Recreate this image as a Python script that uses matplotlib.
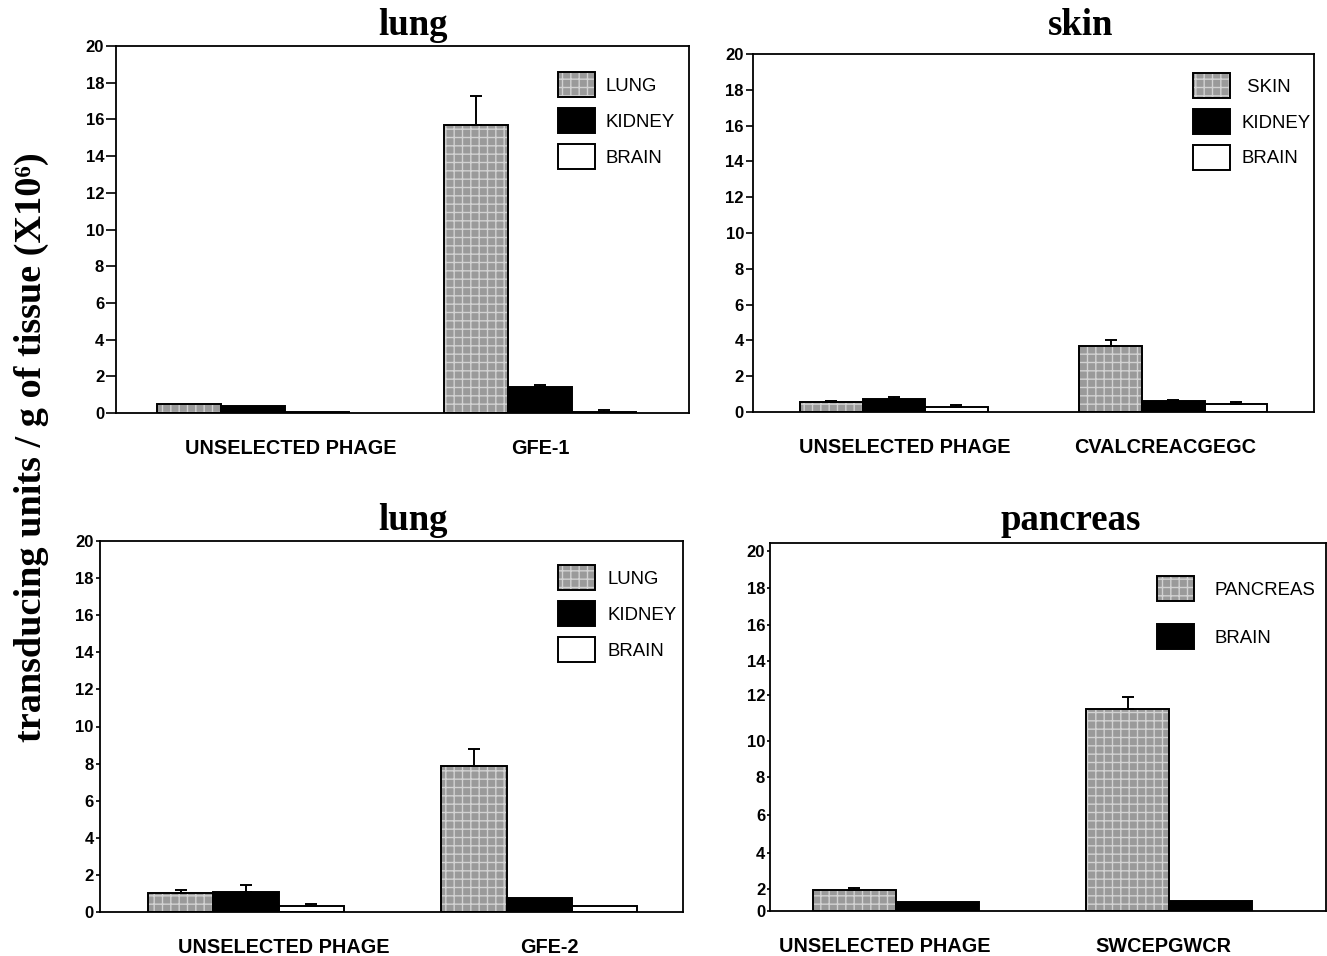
import numpy as np
import matplotlib
matplotlib.use('Agg')
import matplotlib.pyplot as plt

# --- dati (X10^6 unita / g di tessuto) ---
lung1_groups = ['UNSELECTED PHAGE', 'GFE-1']
lung1_lung = [0.5, 15.7]
lung1_lung_err = [0.0, 1.6]
lung1_kidney = [0.4, 1.4]
lung1_kidney_err = [0.0, 0.15]
lung1_brain = [0.08, 0.08]
lung1_brain_err = [0.0, 0.08]

skin_groups = ['UNSELECTED PHAGE', 'CVALCREACGEGC']
skin_skin = [0.55, 3.7]
skin_skin_err = [0.05, 0.3]
skin_kidney = [0.75, 0.6]
skin_kidney_err = [0.1, 0.05]
skin_brain = [0.3, 0.45]
skin_brain_err = [0.08, 0.1]

lung2_groups = ['UNSELECTED PHAGE', 'GFE-2']
lung2_lung = [1.0, 7.85]
lung2_lung_err = [0.2, 0.95]
lung2_kidney = [1.1, 0.75]
lung2_kidney_err = [0.35, 0.0]
lung2_brain = [0.35, 0.35]
lung2_brain_err = [0.1, 0.0]

panc_groups = ['UNSELECTED PHAGE', 'SWCEPGWCR']
panc_pancreas = [1.9, 11.4]
panc_pancreas_err = [0.15, 0.5]
panc_brain = [0.8, 0.9]
panc_brain_err = [0.0, 0.0]

y_ticks = list(range(0, 21, 2))
# l'asse del pannello pancreas non e' lineare: posizione (px) di ogni tacca
panc_tick_vals = [0, 2, 4, 6, 8, 10, 12, 14, 16, 18, 20, 22]
panc_tick_pos = [0, 22, 58, 96, 134, 170, 216, 250, 286, 323, 360, 396]

W, H = 1327, 956
fig = plt.figure(figsize=(W / 100, H / 100), dpi=100)
plt.rcParams['hatch.color'] = '#d2d2d2'
plt.rcParams['hatch.linewidth'] = 1.0

SANS = ['Liberation Sans', 'DejaVu Sans']
SERIF = ['Liberation Serif', 'DejaVu Serif']

styles = {
    'gray': dict(color='#9a9a9a', hatch='++'),
    'black': dict(color='black', hatch=None),
    'white': dict(color='white', hatch=None),
}


def px_axes(left, right, top, bottom):
    return fig.add_axes([left / W, 1 - bottom / H, (right - left) / W, (bottom - top) / H])


def pannello(ax, groups, series, width, xlim, label_x, tick_len, leg_pos, leg_space, leg_pad):
    x = np.arange(len(groups))
    n = len(series)
    offsets = (np.arange(n) - (n - 1) / 2) * width
    handles, labels = [], []
    for (name, vals, errs, st), off in zip(series, offsets):
        st = styles[st]
        b1 = ax.bar(x + off, vals, width, color=st['color'], hatch=st['hatch'],
                    linewidth=0, zorder=2)
        b2 = ax.bar(x + off, vals, width, fill=False, edgecolor='black',
                    linewidth=1.4, zorder=3)
        errs = np.array(errs)
        m = errs > 0
        if m.any():
            ax.errorbar((x + off)[m], np.array(vals)[m],
                        yerr=[np.zeros(m.sum()), errs[m]], fmt='none',
                        ecolor='black', elinewidth=1.4, capsize=4, capthick=1.4, zorder=4)
        handles.append((b1, b2))
        labels.append(name)
    ax.set_xlim(*xlim)
    ax.set_xticks(label_x)
    ax.set_xticklabels(groups, fontsize=14.3, fontweight='bold', family=SANS)
    ax.tick_params(axis='x', length=0, pad=19)
    ax.set_yticks(y_ticks)
    ax.set_yticklabels([str(t) for t in y_ticks], fontsize=12, fontweight='bold', family=SANS)
    ax.tick_params(axis='y', length=tick_len, width=1.2, pad=1.5, direction='out')
    for s in ax.spines.values():
        s.set_linewidth(1.3)
    leg = ax.legend(handles, labels, loc='upper left', bbox_to_anchor=leg_pos,
                    frameon=False, borderpad=0, borderaxespad=0,
                    handlelength=1.99, handleheight=1.69, labelspacing=leg_space,
                    handletextpad=leg_pad, prop={'family': SANS, 'size': 13.4})
    return leg


# pannello 1: lung GFE-1
ax1 = px_axes(116, 689, 46, 413)
ax1.set_ylim(0, 20)
pannello(ax1, lung1_groups,
         [('LUNG', lung1_lung, lung1_lung_err, 'gray'),
          ('KIDNEY', lung1_kidney, lung1_kidney_err, 'black'),
          ('BRAIN', lung1_brain, lung1_brain_err, 'white')],
         0.223, (-0.477, 1.519), [0.132, 1.0], 7, (0.771, 0.929), 0.59, 0.59)

# pannello 2: skin
ax2 = px_axes(753, 1314, 54, 412)
ax2.set_ylim(0, 20)
pannello(ax2, skin_groups,
         [(' SKIN', skin_skin, skin_skin_err, 'gray'),
          ('KIDNEY', skin_kidney, skin_kidney_err, 'black'),
          ('BRAIN', skin_brain, skin_brain_err, 'white')],
         0.224, (-0.504, 1.503), [0.039, 0.97], 5, (0.784, 0.947), 0.59, 0.65)

# pannello 3: lung GFE-2
ax3 = px_axes(100, 683, 541, 912)
ax3.set_ylim(0, 20)
pannello(ax3, lung2_groups,
         [('LUNG', lung2_lung, lung2_lung_err, 'gray'),
          ('KIDNEY', lung2_kidney, lung2_kidney_err, 'black'),
          ('BRAIN', lung2_brain, lung2_brain_err, 'white')],
         0.223, (-0.498, 1.49), [0.13, 1.034], 3, (0.786, 0.935), 0.59, 0.65)

# pannello 4: pancreas, scala a tratti
ax4 = px_axes(770, 1326, 543, 911)
ax4.set_yscale('function', functions=(
    lambda v: np.interp(v, panc_tick_vals, panc_tick_pos),
    lambda p: np.interp(p, panc_tick_pos, panc_tick_vals)))
ax4.set_ylim(0, 20.45)
pannello(ax4, panc_groups,
         [('PANCREAS', panc_pancreas, panc_pancreas_err, 'gray'),
          ('BRAIN', panc_brain, panc_brain_err, 'black')],
         0.304, (-0.4615, 1.575), [-0.04, 0.978], 2, (0.696, 0.910), 1.24, 1.08)

# titoli
for xc, yb, t in [(413, 35, 'lung'), (1081, 35, 'skin'),
                  (413, 530, 'lung'), (1071, 530, 'pancreas')]:
    fig.text(xc / W, 1 - yb / H, t, ha='center', va='baseline',
             fontsize=26.5, fontweight='bold', family=SERIF)

fig.text(31 / W, 1 - 447 / H, 'transducing units / g of tissue (X10\u2076)',
         rotation=90, ha='center', va='center', fontsize=27.5, fontweight='bold', family=SERIF)

plt.savefig('out.png', dpi=100)
